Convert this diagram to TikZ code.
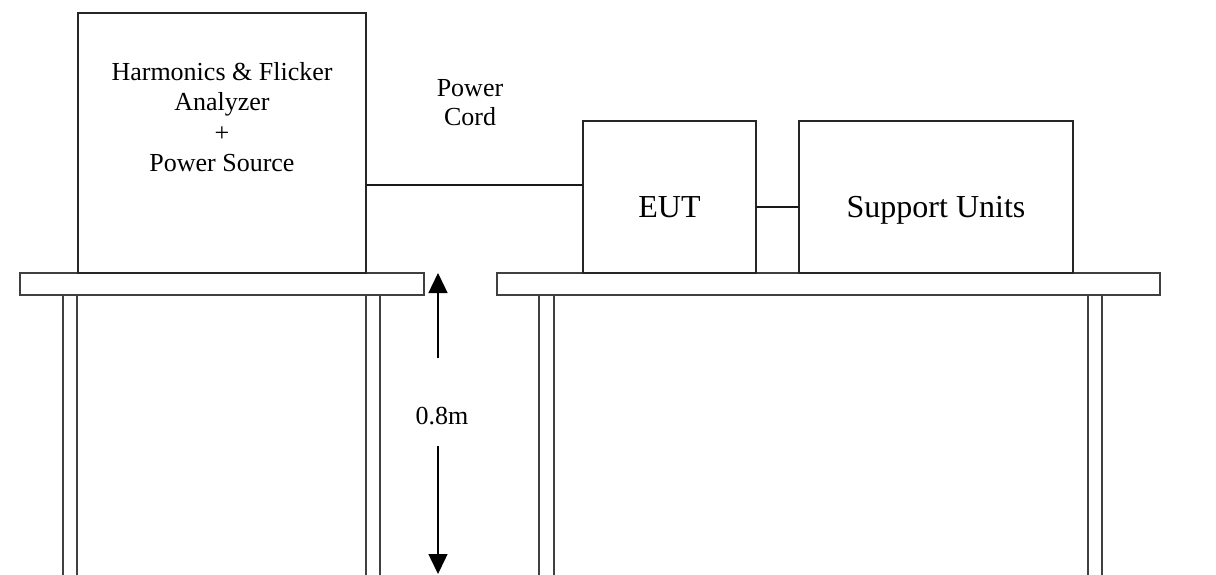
\documentclass[tikz,border=0pt]{standalone}
\usepackage{fontspec}
\setmainfont{Liberation Serif}
\usetikzlibrary{arrows.meta}
\begin{document}
\begin{tikzpicture}[x=1pt,y=-1pt,
  box/.style={draw=black!85, line width=1.4pt, inner sep=0pt, outer sep=0pt, anchor=north west},
  plank/.style={draw=black!75, line width=1.4pt, fill=white},
  wire/.style={draw=black!90, line width=1.4pt},
  lbl/.style={font=\fontsize{26}{30.5}\selectfont, align=center, inner sep=0pt},
  big/.style={font=\fontsize{32}{36}\selectfont, inner sep=0pt, anchor=base},
  dim/.style={draw=black, line width=1.4pt, -{Triangle[width=19pt,length=20pt]}}]
\useasboundingbox (0,0) rectangle (1216,574);
% tables
\draw[plank] (63,295) rectangle (77,590);
\draw[plank] (366,295) rectangle (380,590);
\draw[plank] (20,273) rectangle (424,295);
\draw[plank] (539,295) rectangle (554,590);
\draw[plank] (1088,295) rectangle (1102,590);
\draw[plank] (497,273) rectangle (1160,295);
% equipment
\node[box, minimum width=288pt, minimum height=260pt] (analyzer) at (78,13) {};
\node[lbl, anchor=north] (atext) at (222,62) {Harmonics \& Flicker\\Analyzer\\+\\Power Source};
\node[box, minimum width=173pt, minimum height=152pt] (eut) at (583,121) {};
\node[big] (euttext) at (669.5,217) {EUT};
\node[box, minimum width=274pt, minimum height=152pt] (support) at (799,121) {};
\node[big] (supporttext) at (936,217) {Support Units};
% cables
\coordinate (cordy) at (0,185);
\coordinate (linky) at (0,207);
\draw[wire] (analyzer.east |- cordy) -- (eut.west |- cordy);
\draw[wire] (eut.east |- linky) -- (support.west |- linky);
\node[lbl, anchor=north, font=\fontsize{26}{29}\selectfont] (cordtext) at (470,79) {Power\\Cord};
% height dimension
\node[lbl, anchor=base] (dimtext) at (442,424) {0.8m};
\coordinate (dimtop) at (438,273);
\coordinate (dimupper) at (438,358);
\coordinate (dimlower) at (438,446);
\coordinate (dimbot) at (438,574);
\draw[dim] (dimupper) -- (dimtop);
\draw[dim] (dimlower) -- (dimbot);
\end{tikzpicture}
\end{document}
